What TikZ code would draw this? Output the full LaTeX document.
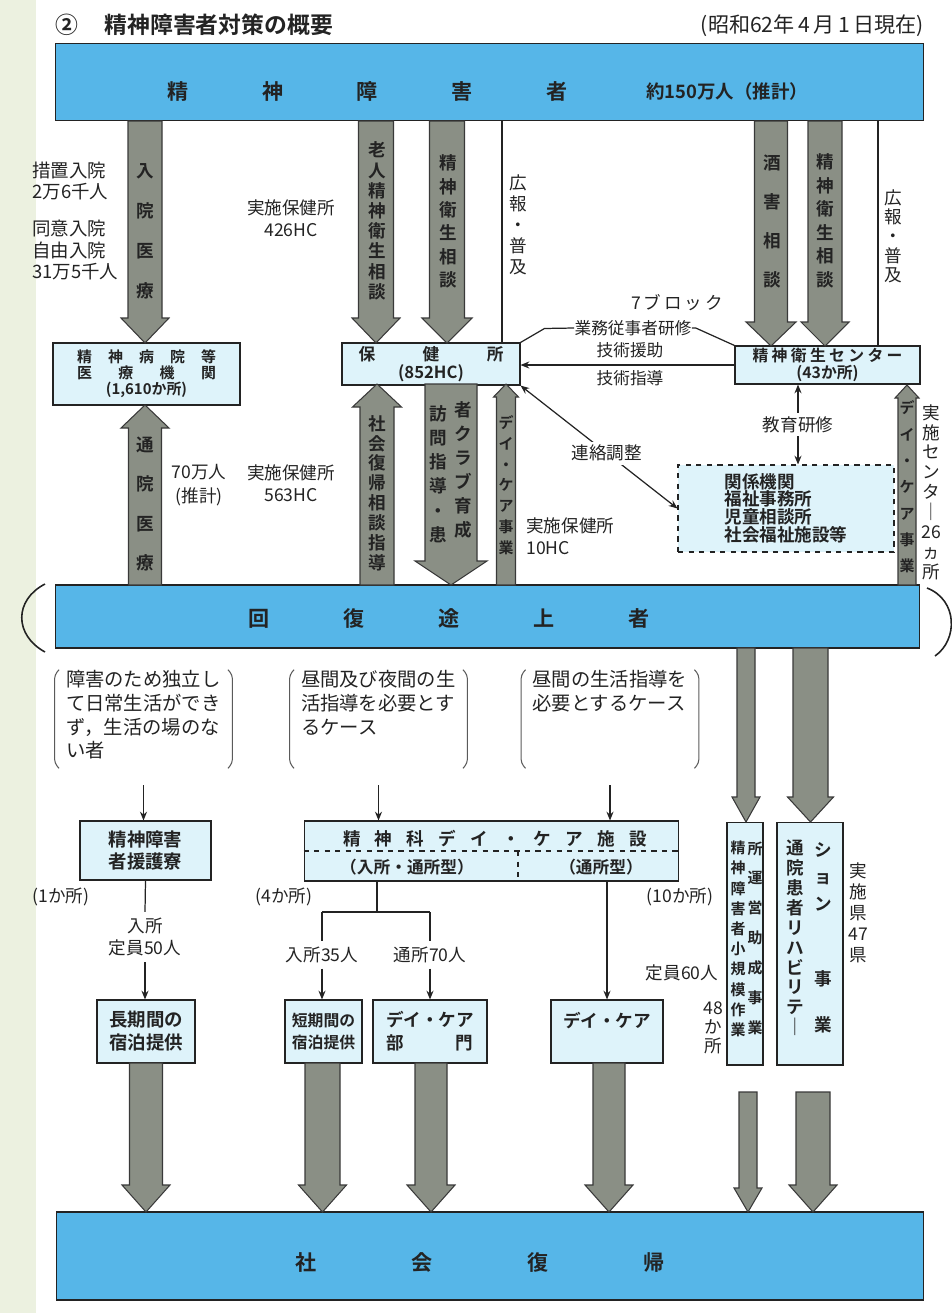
\documentclass[tikz,border=0pt]{standalone}
\usepackage{fontspec}
\setmainfont{Noto Sans CJK JP}[BoldFont={Noto Sans CJK JP Bold}]
\usepackage{xcolor}
\usetikzlibrary{positioning, arrows.meta}

\definecolor{barblue}{RGB}{86,182,232}
\definecolor{boxcyan}{RGB}{222,243,250}
\definecolor{arrowgray}{RGB}{138,143,133}
\definecolor{ink}{RGB}{35,35,35}
\definecolor{margin}{RGB}{236,241,224}

\newcommand{\fs}[2]{\fontsize{#1}{#2}\selectfont}
\newcommand{\spread}[2]{\makebox[#1][s]{#2}}
% gray block arrow: x, start y, tip y, half shaft, half head, head length
\newcommand{\garrow}[6]{%
  \pgfmathsetmacro{\gneck}{#3-#6*sign(#3-#2)}
  \filldraw[garrowline] (#1-#4,#2) -- (#1-#4,\gneck) -- (#1-#5,\gneck) -- (#1,#3)
    -- (#1+#5,\gneck) -- (#1+#4,\gneck) -- (#1+#4,#2) -- cycle;}
\newcommand{\brackets}[1]{%
  \draw[brk] ([xshift=2.5pt]#1.north west) -- ([yshift=-3pt]#1.north west)
    -- ([yshift=3pt]#1.south west) -- ([xshift=2.5pt]#1.south west);
  \draw[brk] ([xshift=-2.5pt]#1.north east) -- ([yshift=-3pt]#1.north east)
    -- ([yshift=3pt]#1.south east) -- ([xshift=-2.5pt]#1.south east);}

\begin{document}
\begin{tikzpicture}[x=0.02cm, y=-0.02cm,
    >={Stealth[length=5pt,width=4pt]},
    bar/.style={draw=ink, line width=0.6pt, fill=barblue, inner sep=0pt},
    box/.style={draw=ink, line width=0.6pt, fill=boxcyan, inner sep=0pt, align=center, text=ink},
    lbl/.style={inner sep=0pt, text=ink, font=\fs{10}{12}},
    vcol/.style={inner sep=0pt, align=center, text=ink},
    garrowline/.style={draw=ink!90, line width=0.6pt, fill=arrowgray},
    link/.style={draw=ink, line width=0.7pt},
    brk/.style={draw=ink!75, line width=0.6pt, rounded corners=2pt},
    grp/.style={inner sep=0pt, minimum width=3.54cm, text=ink, font=\fs{11}{13.6}}]
    \useasboundingbox (0,0) rectangle (951,1313);
    \fill[margin] (0,0) rectangle (36,1313);

    % title
    \node[lbl, anchor=west, font=\fs{13}{15}\bfseries] (title) at (55,25) {②\hspace{15pt}精神障害者対策の概要};
    \node[lbl, anchor=east, font=\fs{12}{14}] (date) at (924,26) {(昭和62年\,4\,月\,1\,日現在)};

    % bars
    \node[bar, minimum width=17.38cm, minimum height=1.54cm] (top) at (489.5,82) {};
    \node[lbl, font=\fs{12}{14}\bfseries] (toptxt) at (367.5,91) {\spread{8.02cm}{精\hfill 神\hfill 障\hfill 害\hfill 者}};
    \node[lbl, anchor=west, font=\fs{10.5}{12}\bfseries] (total) at (646,91) {約150万人（推計）};
    \node[bar, minimum width=17.3cm, minimum height=1.26cm] (mid) at (487.5,616.5) {};
    \node[lbl, font=\fs{12}{14}\bfseries] (midtxt) at (449,618) {\spread{8.04cm}{回\hfill 復\hfill 途\hfill 上\hfill 者}};
    \node[bar, minimum width=17.36cm, minimum height=1.76cm] (bot) at (490,1256) {};
    \node[lbl, font=\fs{12}{14}\bfseries] (bottxt) at (480,1262) {\spread{7.4cm}{社\hfill 会\hfill 復\hfill 帰}};
    \draw[ink, line width=0.9pt] (45,584) .. controls (14,600) and (14,635) .. (45,652);
    \draw[ink, line width=0.9pt] (927,588) .. controls (958,600) and (958,640) .. (935,656);

    % upper boxes
    \node[box, minimum width=3.74cm, minimum height=1.24cm, font=\fs{8.5}{9.1}\bfseries] (hosp) at (146.5,374)
        {\spread{2.78cm}{精\hfill 神\hfill 病\hfill 院\hfill 等}\\\spread{2.78cm}{医\hfill 療\hfill 機\hfill 関}\\(1,610か所)};
    \node[box, minimum width=3.56cm, minimum height=0.84cm, font=\fs{9.5}{10}\bfseries] (hc) at (431,364)
        {\spread{2.9cm}{保\hfill 健\hfill 所}\\(852HC)};
    \node[box, minimum width=3.7cm, minimum height=0.76cm, font=\fs{9}{9.5}\bfseries] (mhc) at (827.5,365)
        {\spread{3cm}{精\hfill 神\hfill 衛\hfill 生\hfill セ\hfill ン\hfill タ\hfill ー}\\(43か所)};
    \node[box, dashed, minimum width=4.32cm, minimum height=1.74cm, align=left, font=\fs{10}{9.4}\bfseries] (rel) at (786,508.5)
        {関係機関\\福祉事務所\\児童相談所\\社会福祉施設等};

    % top bar down to boxes
    \garrow{145}{121}{343}{17}{24}{25}
    \garrow{376}{121}{343}{17.5}{24}{25}
    \garrow{447}{121}{343}{17.5}{25}{25}
    \garrow{771}{121}{346}{16.5}{25}{24}
    \garrow{825}{121}{346}{17}{24}{24}
    \node[vcol, font=\fs{10}{22.7}\bfseries] at (145,231) {入\\院\\医\\療};
    \node[vcol, font=\fs{10}{11.5}\bfseries] at (377,221) {老\\人\\精\\神\\衛\\生\\相\\談};
    \node[vcol, font=\fs{10}{13.3}\bfseries] at (448,221.5) {精\\神\\衛\\生\\相\\談};
    \node[vcol, font=\fs{10}{22.1}\bfseries] at (772,221.5) {酒\\害\\相\\談};
    \node[vcol, font=\fs{10}{13.4}\bfseries] at (825,221) {精\\神\\衛\\生\\相\\談};
    \coordinate (p1) at (502,0);
    \coordinate (p2) at (878,0);
    \draw[link] (top.south -| p1) -- (hc.north -| p1);
    \draw[link] (top.south -| p2) -- (mhc.north -| p2);
    \node[vcol, font=\fs{10}{12}] at (518,224.5) {広\\報\\・\\普\\及};
    \node[vcol, font=\fs{10}{11}] at (893,236) {広\\報\\・\\普\\及};
    \node[lbl, anchor=west, align=left, font=\fs{10.5}{12.5}] (sochi) at (32,181) {措置入院\\2万6千人};
    \node[lbl, anchor=west, align=left, font=\fs{10.5}{12.5}] (doi) at (32,250) {同意入院\\自由入院\\31万5千人};
    \node[lbl, align=center, font=\fs{10}{12.5}] (hc426) at (291,218) {実施保健所\\426HC};

    % between hc and center
    \node[lbl, font=\fs{10}{12}] (block) at (677,303) {7\,ブ\,ロ\,ッ\,ク};
    \node[lbl, font=\fs{9.5}{12}] (kenshu) at (633,328) {業務従事者研修};
    \draw[link] (hc.north east) -- ++(24,-14) -- (kenshu.west);
    \draw[link] (kenshu.east) -- ++(4,0) -- (mhc.north west);
    \draw[link, ->] (mhc.west) -- (mhc.west -| hc.east);
    \node[lbl, font=\fs{9.5}{12}] (enjo) at (630,350) {技術援助};
    \node[lbl, font=\fs{9.5}{12}] (shido) at (630,378) {技術指導};
    \draw[link, <->] (hc.south east) -- node[lbl, fill=white, inner sep=2pt, pos=0.55] {連絡調整} (rel.west);
    \coordinate (kx) at (798,0);
    \draw[link, <->] (mhc.south -| kx) -- node[lbl, fill=white, inner sep=2pt] {教育研修} (rel.north -| kx);

    % recovering people up to boxes
    \garrow{145}{585}{405}{16.5}{24}{23}
    \garrow{377}{585}{384}{17}{24.5}{23}
    \garrow{451}{384}{585}{26}{36}{24}
    \garrow{506}{585}{384}{9.5}{12.5}{13}
    \garrow{907}{585}{385}{9}{12}{13}
    \node[vcol, font=\fs{10}{22.3}\bfseries] at (145,504) {通\\院\\医\\療};
    \node[vcol, font=\fs{10}{11.3}\bfseries] at (377,493) {社\\会\\復\\帰\\相\\談\\指\\導};
    \node[vcol, font=\fs{10}{13.8}\bfseries] at (438,474) {訪\\問\\指\\導\\・\\患};
    \node[vcol, font=\fs{10}{13.6}\bfseries] at (463,470) {者\\ク\\ラ\\ブ\\育\\成};
    \node[vcol, font=\fs{8.5}{11.8}\bfseries] at (506,485) {デ\\イ\\・\\ケ\\ア\\事\\業};
    \node[vcol, font=\fs{8.5}{15}\bfseries] at (907,487) {デ\\イ\\・\\ケ\\ア\\事\\業};
    \node[vcol, font=\fs{10}{11.3}] at (931,492) {実\\施\\セ\\ン\\タ\\｜\\26\\ヵ\\所};
    \node[lbl, align=center, font=\fs{10}{13.6}] (est70) at (199,485) {70万人\\(推計)};
    \node[lbl, align=center, font=\fs{10}{12.5}] (hc563) at (291,483) {実施保健所\\563HC};
    \node[lbl, anchor=west, align=left, font=\fs{10}{12.5}] (hc10) at (526,536) {実施保健所\\10HC};

    % cases
    \node[grp] (g1) at (143.5,719) {\parbox[c][1.96cm][t]{3.1cm}{障害のため独立し\\て日常生活ができ\\ず，生活の場のな\\い者}};
    \node[grp] (g2) at (378.5,719) {\parbox[c][1.96cm][t]{3.1cm}{昼間及び夜間の生\\活指導を必要とす\\るケース}};
    \node[grp] (g3) at (610,719) {\parbox[c][1.96cm][t]{3.1cm}{昼間の生活指導を\\必要とするケース}};
    \brackets{g1}
    \brackets{g2}
    \brackets{g3}

    % facilities
    \node[box, minimum width=2.62cm, minimum height=1.18cm, font=\fs{10.5}{12.5}\bfseries] (ryo) at (145.5,850.5) {精神障害\\者援護寮};
    \node[box, minimum width=7.5cm, minimum height=1.2cm] (dcf) at (491.5,851) {};
    \node[lbl, font=\fs{10}{12}\bfseries] (dcft) at (495,839)
        {\spread{6.08cm}{精\hfill 神\hfill 科\hfill デ\hfill イ\hfill ・\hfill ケ\hfill ア\hfill 施\hfill 設}};
    \coordinate (dx) at (518,0);
    \draw[link, dashed] (dcf.west) -- (dcf.east);
    \draw[link, dashed] (dcf.center -| dx) -- (dcf.south -| dx);
    \node[lbl, font=\fs{9.5}{12}\bfseries] (nyutsu) at (407,867) {（入所・通所型）};
    \node[lbl, font=\fs{9.5}{12}\bfseries] (tsusho) at (601,867) {（通所型）};
    \node[box, minimum width=0.72cm, minimum height=4.86cm] (work) at (745,943.5) {};
    \node[vcol, font=\fs{8.5}{11.5}\bfseries] at (738,939) {精\\神\\障\\害\\者\\小\\規\\模\\作\\業};
    \node[vcol, font=\fs{8.5}{17}\bfseries] at (755,938) {所\\運\\営\\助\\成\\事\\業};
    \node[box, minimum width=1.32cm, minimum height=4.86cm] (rehab) at (810,943.5) {};
    \node[vcol, font=\fs{10}{11.3}\bfseries] at (795,938) {通\\院\\患\\者\\リ\\ハ\\ビ\\リ\\テ\\｜};
    \node[vcol, font=\fs{10}{15.3}\bfseries] at (823,938) {シ\\ョ\\ン\\[27.8pt]事\\[10.8pt]業};
    \node[vcol, font=\fs{10}{12}] at (858,912.5) {実\\施\\県\\47\\県};
    \node[lbl, anchor=west] (n1) at (32,897) {(1か所)};
    \node[lbl] (n4) at (284,897) {(4か所)};
    \node[lbl] (n10) at (680,897) {(10か所)};
    \node[lbl] (cap60) at (682,973) {定員60人};
    \node[vcol, font=\fs{10}{10.8}] at (713,1028) {48\\か\\所};

    % groups to facilities
    \draw[link, ->] (g1.south) ++(0,17) -- (g1.south |- ryo.north);
    \draw[link, ->] (g2.south) ++(0,17) -- (g2.south |- dcf.north);
    \draw[link, ->] (g3.south) ++(0,17) -- (g3.south |- dcf.north);
    \garrow{746}{648}{822}{9}{14}{25}
    \garrow{810.5}{648}{822}{17.5}{23}{25}

    % lodging and day care
    \node[box, minimum width=1.96cm, minimum height=1.26cm, font=\fs{10.5}{13}\bfseries] (long) at (146,1031.5) {長期間の\\宿泊提供};
    \node[box, minimum width=1.54cm, minimum height=1.26cm, font=\fs{9}{13}\bfseries] (short) at (323.5,1031.5) {短期間の\\宿泊提供};
    \node[box, minimum width=2.28cm, minimum height=1.26cm, font=\fs{10}{13}\bfseries] (dcsec) at (430,1031.5)
        {デイ・ケア\\\spread{1.74cm}{部\hfill 門}};
    \node[box, minimum width=2.24cm, minimum height=1.26cm, font=\fs{10}{13}\bfseries] (dc) at (607,1031.5) {デイ・ケア\\\mbox{}};
    \node[lbl, align=center, inner sep=3pt, font=\fs{10}{13}] (cap50) at (145,937) {入所\\定員50人};
    \draw[link] (ryo.south) -- (cap50.north);
    \draw[link, ->] (cap50.south) -- (cap50.south |- long.north);
    \coordinate (bx) at (377,912);
    \node[lbl, inner sep=3pt] (n35) at (322,955) {入所35人};
    \node[lbl, inner sep=3pt] (n70) at (430,955) {通所70人};
    \draw[link] (dcf.south -| bx) -- (bx);
    \draw[link] (bx -| n35) -- (bx -| n70);
    \draw[link] (bx -| n35) -- (n35.north);
    \draw[link] (bx -| n70) -- (n70.north);
    \draw[link, ->] (n35.south) -- (n35.south |- short.north);
    \draw[link, ->] (n70.south) -- (n70.south |- dcsec.north);
    \draw[link, ->] (dcf.south -| dc.north) -- (dc.north);

    % down to social return
    \garrow{146}{1063}{1212}{16.5}{24}{27}
    \garrow{322.5}{1063}{1212}{17.5}{24}{27}
    \garrow{431}{1063}{1212}{16}{24}{27}
    \garrow{609}{1063}{1212}{16}{24}{27}
    \garrow{748}{1092}{1212}{9}{14}{24}
    \garrow{813}{1092}{1212}{17}{24}{27}
\end{tikzpicture}
\end{document}
